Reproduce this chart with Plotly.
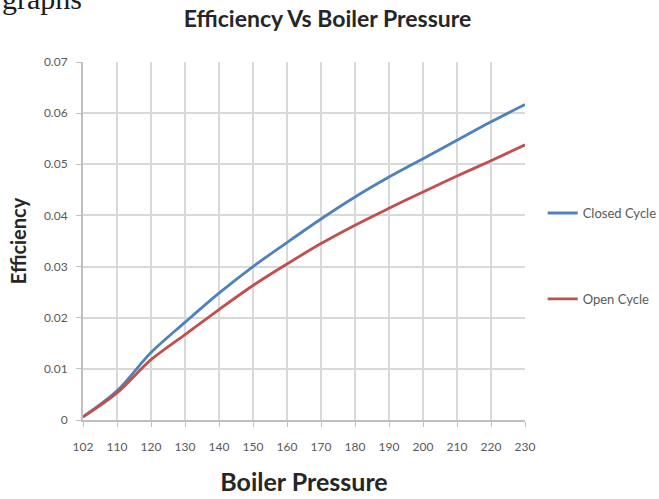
import plotly.graph_objects as go

pressure = ["102", "110", "120", "130", "140", "150", "160", "170", "180", "190", "200", "210", "220", "230"]
closed_cycle = [0.0006, 0.0057, 0.0132, 0.0191, 0.0248, 0.0300, 0.0347, 0.0393, 0.0436, 0.0475, 0.0511, 0.0547, 0.0583, 0.0617]
open_cycle = [0.0006, 0.0053, 0.0118, 0.0167, 0.0216, 0.0263, 0.0305, 0.0345, 0.0381, 0.0414, 0.0446, 0.0477, 0.0507, 0.0538]

FONT = "Lato"
GRAY = "#595959"

fig = go.Figure()
fig.add_trace(go.Scatter(x=pressure, y=closed_cycle, mode="lines", name="Closed Cycle",
                         line=dict(color="#4f81bd", width=2.8, shape="spline", smoothing=0.9), legendgroup="a"))
fig.add_trace(go.Scatter(x=pressure, y=open_cycle, mode="lines", name="Open Cycle",
                         line=dict(color="#c0504d", width=2.8, shape="spline", smoothing=0.9), legendgroup="b"))

fig.update_layout(
    width=659, height=499,
    margin=dict(l=83, r=134, t=62, b=79, autoexpand=False),
    paper_bgcolor="white", plot_bgcolor="white",
    font=dict(family=FONT, color=GRAY, size=12),
    title=dict(text="<b>Efficiency Vs Boiler Pressure</b>", x=0.497, xanchor="center",
               y=0.963, yanchor="middle", font=dict(family=FONT, size=23, color="#262626")),
    showlegend=True,
    legend=dict(x=1.04, xanchor="left", y=0.62, yanchor="top", tracegroupgap=66,
                itemwidth=30, font=dict(family=FONT, size=13, color=GRAY),
                bgcolor="rgba(0,0,0,0)"),
    xaxis=dict(type="category", range=[0, 13], showgrid=True, gridcolor="#d9d9d9", gridwidth=2,
               showline=True, linecolor="#bfbfbf", linewidth=2, ticks="outside", ticklen=5,
               tickcolor="#bfbfbf", tickfont=dict(size=12, color=GRAY), ticklabelstandoff=10,
               title=dict(text="<b>Boiler Pressure</b>", font=dict(family=FONT, size=25, color="#262626"), standoff=20)),
    yaxis=dict(range=[0, 0.07], dtick=0.01, showgrid=True, gridcolor="#d9d9d9", gridwidth=2,
               showline=True, linecolor="#bfbfbf", linewidth=2, ticks="outside", ticklen=5,
               tickcolor="#bfbfbf", tickfont=dict(size=12, color=GRAY), zeroline=False, ticklabelstandoff=6,
               title=dict(text="<b>Efficiency</b>", font=dict(family=FONT, size=20, color="#262626"), standoff=12)),
)

fig.add_annotation(text="graphs", xref="paper", yref="paper", x=0, xanchor="left",
                   y=1, yanchor="bottom", xshift=-83, yshift=45, showarrow=False,
                   font=dict(family="Liberation Serif", size=30, color="#1a1a1a"))

fig.write_html("out.html")
